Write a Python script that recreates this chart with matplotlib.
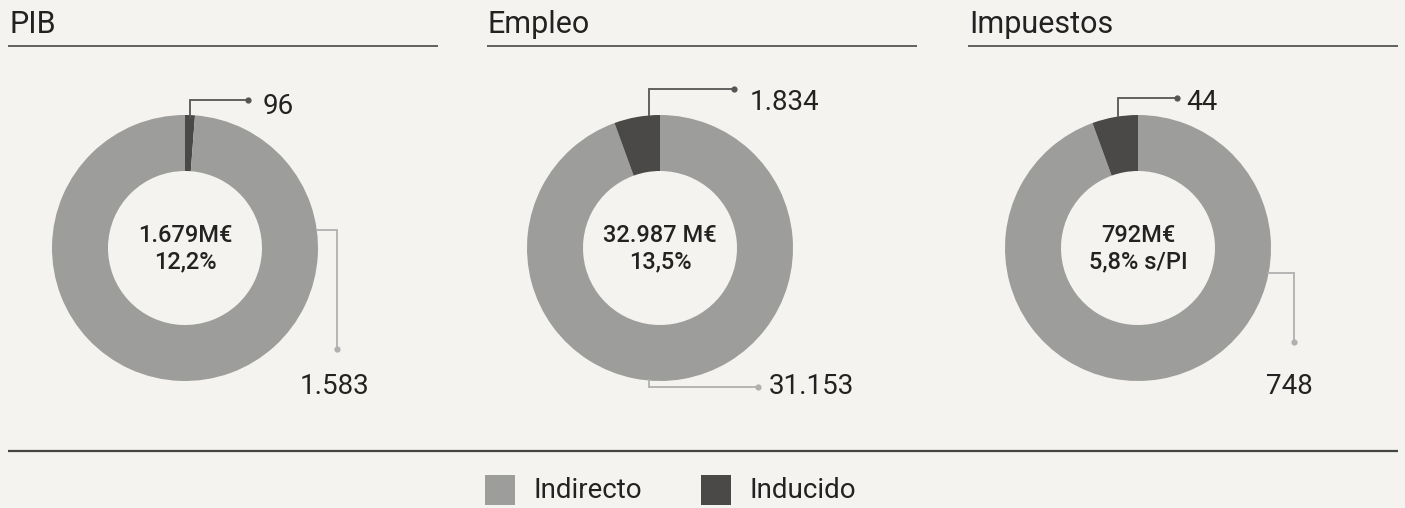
import matplotlib
matplotlib.use("Agg")
import matplotlib.pyplot as plt
from matplotlib.patches import Rectangle

# ---------------- data ----------------
categories = ["PIB", "Empleo", "Impuestos"]
indirecto = [1583, 31153, 748]
inducido = [96, 1834, 44]
indirecto_lbl = ["1.583", "31.153", "748"]
inducido_lbl = ["96", "1.834", "44"]
center_line1 = ["1.679M€", "32.987 M€", "792M€"]
center_line2 = ["12,2%", "13,5%", "5,8% s/PI"]
# share of the ring drawn as "Inducido" as it appears in the picture (%)
inducido_arc_pct = [1.2, 5.56, 5.56]
legend_labels = ["Indirecto", "Inducido"]

# ---------------- style ----------------
W, H = 1405, 508
BG = "#f4f3ef"
C_IND = "#9d9d9c"
C_INDU = "#4a4947"
C_TXT = "#222222"
FONT = ["Roboto", "DejaVu Sans"]
NUMSIZE = 20

def Y(p):
    return H - p

fig = plt.figure(figsize=(W / 100, H / 100), dpi=100, facecolor=BG)
ax = fig.add_axes([0, 0, 1, 1])
ax.set_facecolor(BG)

centers_x = [185, 660, 1138]
cy = 248
R = 133
RW = 56

# title positions and lines
title_x = [8, 487, 968]
for i, cat in enumerate(categories):
    ax.text(title_x[i] + 1, Y(33), cat, fontsize=22, color=C_TXT, family=FONT,
            ha="left", va="baseline")
    ax.plot([title_x[i], title_x[i] + 430], [Y(46), Y(46)], color="#555555", lw=1.3,
            solid_capstyle="butt")

# donuts
for i in range(3):
    p = inducido_arc_pct[i]
    if i == 0:
        vals = [p, 100 - p]
        cols = [C_INDU, C_IND]
    else:
        vals = [100 - p, p]
        cols = [C_IND, C_INDU]
    ax.pie(vals, center=(centers_x[i], Y(cy)), radius=R, startangle=90,
           counterclock=False, colors=cols,
           wedgeprops=dict(width=RW, edgecolor="none", linewidth=0))
    ax.text(centers_x[i], Y(235), center_line1[i], fontsize=17, fontweight="medium",
            color=C_TXT, family=FONT, ha="center", va="center")
    ax.text(centers_x[i], Y(262), center_line2[i], fontsize=17, fontweight="medium",
            color=C_TXT, family=FONT, ha="center", va="center")

# leader lines (pixel layout)
def leader(pts, color):
    xs = [q[0] for q in pts]
    ys = [Y(q[1]) for q in pts]
    ax.plot(xs, ys, color=color, lw=1.3, solid_joinstyle="miter")
    ax.plot(xs[-1], ys[-1], "o", color=color, ms=4.5, mec="none")

def numlabel(x, y, s, ha):
    ax.text(x, Y(y), s, fontsize=NUMSIZE, color=C_TXT, family=FONT,
            ha=ha, va="center")

LC_DARK = "#555555"
LC_LIGHT = "#b0b0b0"
# PIB
leader([(190, 118), (190, 100), (248, 100)], LC_DARK)
numlabel(263, 106, inducido_lbl[0], "left")
leader([(317, 230), (337, 230), (337, 349)], LC_LIGHT)
numlabel(335, 386, indirecto_lbl[0], "center")
# Empleo
leader([(649, 115), (649, 89), (734, 89)], LC_DARK)
numlabel(750, 102, inducido_lbl[1], "left")
leader([(649, 380), (649, 387), (758, 387)], LC_LIGHT)
numlabel(769, 387, indirecto_lbl[1], "left")
# Impuestos
leader([(1118, 116), (1118, 98), (1177, 98)], LC_DARK)
numlabel(1186, 103, inducido_lbl[2], "left")
leader([(1268, 273), (1294, 273), (1294, 342)], LC_LIGHT)
numlabel(1289, 386, indirecto_lbl[2], "center")

# bottom rule
ax.plot([8, 1398], [Y(451), Y(451)], color="#444444", lw=1.6, solid_capstyle="butt")

# legend
leg_x = [485, 701]
leg_cols = [C_IND, C_INDU]
for j, lab in enumerate(legend_labels):
    ax.add_patch(Rectangle((leg_x[j], Y(505)), 30, 30, facecolor=leg_cols[j],
                           edgecolor="none"))
    ax.text(leg_x[j] + 49, Y(490), lab, fontsize=20, color=C_TXT, family=FONT,
            ha="left", va="center")

ax.set_xlim(0, W)
ax.set_ylim(0, H)
ax.set_aspect("auto")
ax.axis("off")

fig.savefig("out.png", dpi=100, facecolor=BG)
